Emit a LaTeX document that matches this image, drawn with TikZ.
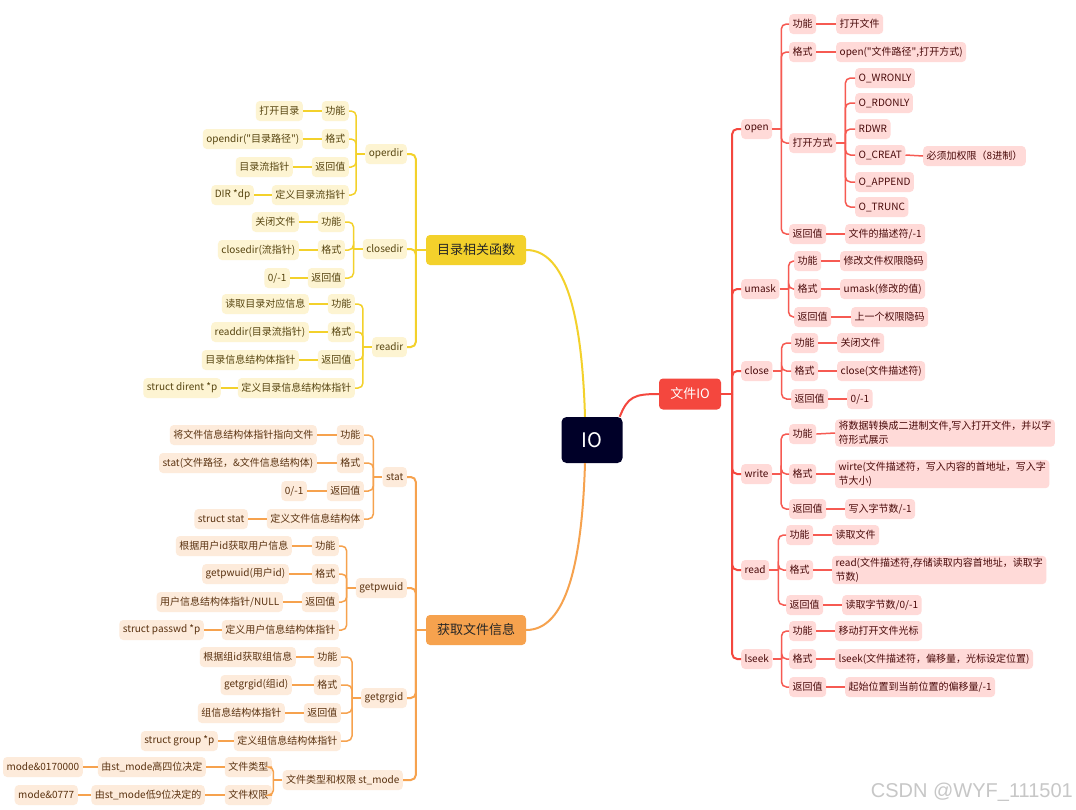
\documentclass[tikz,border=0pt]{standalone}
\usepackage{fontspec}
\setmainfont{Noto Sans CJK SC}
\newfontfamily\qfont{Noto Sans CJK SC}
\newfontfamily\wmfont{Liberation Sans}
\newcommand\sq{{\qfont"}}
\definecolor{iofill}{HTML}{000028}
\definecolor{redc}{HTML}{F4473E}
\definecolor{redl}{HTML}{F65A52}
\definecolor{rfill}{HTML}{FFDAD8}
\definecolor{rtext}{HTML}{4A0A0A}
\definecolor{ylc}{HTML}{F3D12B}
\definecolor{yfill}{HTML}{FDF4D2}
\definecolor{ytext}{HTML}{574510}
\definecolor{orc}{HTML}{F6A24E}
\definecolor{ofill}{HTML}{FDEBDB}
\definecolor{otext}{HTML}{5A3210}
\tikzset{
  base/.style={rounded corners=4pt, inner xsep=3.5pt, inner ysep=2pt, minimum height=20pt,
    font=\fontsize{10}{14}\selectfont, align=left},
  rnode/.style={base, fill=rfill, text=rtext},
  ynode/.style={base, fill=yfill, text=ytext},
  onode/.style={base, fill=ofill, text=otext},
  rline/.style={draw=redl, line width=1.5pt},
  rtrunk/.style={draw=redc, line width=2pt},
  yline/.style={draw=ylc, line width=1.5pt},
  ytrunk/.style={draw=ylc, line width=2pt},
  oline/.style={draw=orc, line width=1.5pt},
  otrunk/.style={draw=orc, line width=2pt},
  elbow/.style={rounded corners=5pt},
  mainnode/.style={rounded corners=4pt, minimum width=100pt, minimum height=30pt,
    font=\fontsize{13}{15}\selectfont, inner sep=0pt}
}
\begin{document}
\begin{tikzpicture}[x=1pt,y=-1pt]
\useasboundingbox[fill=white] (0,0) rectangle (1076,809);

% ---------- central nodes ----------
\node[rounded corners=5pt, fill=iofill, text=white, minimum width=61pt, minimum height=46pt,
  font=\fontsize{20}{22}\selectfont, inner sep=0pt] (io) at (592,440) {IO};
\node[mainnode, fill=redc, text=white, minimum width=62pt, minimum height=31pt] (wj) at (690,394) {文件IO};
\node[mainnode, fill=ylc, text=black!85] (dj) at (476,250) {目录相关函数};
\node[mainnode, fill=orc, text=black!85] (fj) at (476,630) {获取文件信息};

\draw[rtrunk] ([xshift=-3pt]io.north east) .. controls +(8,-20) and +(-25,0) .. (wj.west);
\draw[ytrunk] ([xshift=-7pt]io.north) .. controls +(-3,-100) and +(40,0) .. (dj.east);
\draw[otrunk] ([xshift=-7pt]io.south) .. controls +(-3,100) and +(40,0) .. (fj.east);

% ---------- right side: 文件IO ----------
\node[rnode,anchor=west] (o) at (741,129) {open};
\node[rnode,anchor=west] (u) at (741,289) {umask};
\node[rnode,anchor=west] (c) at (741,371) {close};
\node[rnode,anchor=west] (w) at (741,474) {write};
\node[rnode,anchor=west] (r) at (741,570) {read};
\node[rnode,anchor=west] (s) at (741,659) {lseek};

% open
\node[rnode,anchor=west] (o1) at (789,24) {功能};
\node[rnode,anchor=west] (o1l) at (836,24) {打开文件};
\node[rnode,anchor=west] (o2) at (789,52) {格式};
\node[rnode,anchor=west] (o2l) at (836,52) {open(\sq 文件路径\sq,打开方式)};
\node[rnode,anchor=west] (o3) at (789,143) {打开方式};
\node[rnode,anchor=west] (o3a) at (855,78) {O\_WRONLY};
\node[rnode,anchor=west] (o3b) at (855,103) {O\_RDONLY};
\node[rnode,anchor=west] (o3c) at (855,129) {RDWR};
\node[rnode,anchor=west] (o3d) at (855,155) {O\_CREAT};
\node[rnode,anchor=west] (o3x) at (923,156) {必须加权限（8进制）};
\node[rnode,anchor=west] (o3e) at (855,182) {O\_APPEND};
\node[rnode,anchor=west] (o3f) at (855,207) {O\_TRUNC};
\node[rnode,anchor=west] (o4) at (789,234) {返回值};
\node[rnode,anchor=west] (o4l) at (845,234) {文件的描述符/-1};

% umask
\node[rnode,anchor=west] (u1) at (794,261) {功能};
\node[rnode,anchor=west] (u1l) at (840,261) {修改文件权限隐码};
\node[rnode,anchor=west] (u2) at (794,289) {格式};
\node[rnode,anchor=west] (u2l) at (840,289) {umask(修改的值)};
\node[rnode,anchor=west] (u3) at (794,317) {返回值};
\node[rnode,anchor=west] (u3l) at (851,317) {上一个权限隐码};

% close
\node[rnode,anchor=west] (c1) at (791,343) {功能};
\node[rnode,anchor=west] (c1l) at (837,343) {关闭文件};
\node[rnode,anchor=west] (c2) at (791,371) {格式};
\node[rnode,anchor=west] (c2l) at (837,371) {close(文件描述符)};
\node[rnode,anchor=west] (c3) at (791,399) {返回值};
\node[rnode,anchor=west] (c3l) at (847,399) {0/-1};

% write
\node[rnode,anchor=west] (w1) at (789,434) {功能};
\node[rnode,anchor=west] (w1l) at (835,433) {将数据转换成二进制文件,写入打开文件，并以字\\符形式展示};
\node[rnode,anchor=west] (w2) at (789,474) {格式};
\node[rnode,anchor=west] (w2l) at (835,474) {wirte(文件描述符，写入内容的首地址，写入字\\节大小)};
\node[rnode,anchor=west] (w3) at (789,509) {返回值};
\node[rnode,anchor=west] (w3l) at (845,509) {写入字节数/-1};

% read
\node[rnode,anchor=west] (r1) at (786,535) {功能};
\node[rnode,anchor=west] (r1l) at (832,535) {读取文件};
\node[rnode,anchor=west] (r2) at (786,570) {格式};
\node[rnode,anchor=west] (r2l) at (832,570) {read(文件描述符,存储读取内容首地址，读取字\\节数)};
\node[rnode,anchor=west] (r3) at (786,605) {返回值};
\node[rnode,anchor=west] (r3l) at (842,605) {读取字节数/0/-1};

% lseek
\node[rnode,anchor=west] (s1) at (789,631) {功能};
\node[rnode,anchor=west] (s1l) at (835,631) {移动打开文件光标};
\node[rnode,anchor=west] (s2) at (789,659) {格式};
\node[rnode,anchor=west] (s2l) at (835,659) {lseek(文件描述符，偏移量，光标设定位置)};
\node[rnode,anchor=west] (s3) at (789,687) {返回值};
\node[rnode,anchor=west] (s3l) at (845,687) {起始位置到当前位置的偏移量/-1};

% right connectors
\draw[rtrunk] (wj.east) -- ([xshift=11pt]wj.east);
\foreach \n in {o,u,c,w,r,s}
  \draw[rtrunk,elbow] (\n.west) -| ([xshift=11pt]wj.east);
\foreach \p/\k in {o/4,u/3,c/3,w/3,r/3,s/3}{
  \draw[rline] (\p.east) -- ([xshift=9pt]\p.east);
  \foreach \i in {1,...,\k}
    \draw[rline,elbow] (\p\i.west) -| ([xshift=9pt]\p.east);
}
\foreach \n in {o1,o2,o4,u1,u2,u3,c1,c2,c3,w1,w2,w3,r1,r2,r3,s1,s2,s3}
  \draw[rline] (\n.east) -- (\n l.west);
\draw[rline] (o3.east) -- ([xshift=9pt]o3.east);
\foreach \n in {o3a,o3b,o3c,o3d,o3e,o3f}
  \draw[rline,elbow] (\n.west) -| ([xshift=9pt]o3.east);
\draw[rline] (o3d.east) -- (o3x.west);

% ---------- left top: 目录相关函数 ----------
\node[ynode,anchor=east] (d1) at (407,154) {operdir};
\node[ynode,anchor=east] (d2) at (407,249) {closedir};
\node[ynode,anchor=east] (d3) at (407,347) {readir};

\node[ynode,anchor=east] (d11) at (349,111) {功能};
\node[ynode,anchor=east] (d11l) at (303,111) {打开目录};
\node[ynode,anchor=east] (d12) at (349,139) {格式};
\node[ynode,anchor=east] (d12l) at (303,139) {opendir(\sq 目录路径\sq)};
\node[ynode,anchor=east] (d13) at (349,167) {返回值};
\node[ynode,anchor=east] (d13l) at (293,167) {目录流指针};
\node[ynode,anchor=east] (d14) at (349,195) {定义目录流指针};
\node[ynode,anchor=east] (d14l) at (254,195) {DIR *dp};

\node[ynode,anchor=east] (d21) at (345,222) {功能};
\node[ynode,anchor=east] (d21l) at (299,222) {关闭文件};
\node[ynode,anchor=east] (d22) at (345,250) {格式};
\node[ynode,anchor=east] (d22l) at (299,250) {closedir(流指针)};
\node[ynode,anchor=east] (d23) at (345,278) {返回值};
\node[ynode,anchor=east] (d23l) at (290,278) {0/-1};

\node[ynode,anchor=east] (d31) at (355,304) {功能};
\node[ynode,anchor=east] (d31l) at (309,304) {读取目录对应信息};
\node[ynode,anchor=east] (d32) at (355,332) {格式};
\node[ynode,anchor=east] (d32l) at (309,332) {readdir(目录流指针)};
\node[ynode,anchor=east] (d33) at (355,360) {返回值};
\node[ynode,anchor=east] (d33l) at (299,360) {目录信息结构体指针};
\node[ynode,anchor=east] (d34) at (355,388) {定义目录信息结构体指针};
\node[ynode,anchor=east] (d34l) at (221,388) {struct dirent *p};

\draw[ytrunk] (dj.west) -- ([xshift=-10pt]dj.west);
\foreach \n in {d1,d2,d3}
  \draw[ytrunk,elbow] (\n.east) -| ([xshift=-10pt]dj.west);
\foreach \p/\k in {d1/4,d2/3,d3/4}{
  \draw[yline] (\p.west) -- ([xshift=-9pt]\p.west);
  \foreach \i in {1,...,\k}{
    \draw[yline,elbow] (\p\i.east) -| ([xshift=-9pt]\p.west);
    \draw[yline] (\p\i.west) -- (\p\i l.east);
  }
}

% ---------- left bottom: 获取文件信息 ----------
\node[onode,anchor=east] (f1) at (407,477) {stat};
\node[onode,anchor=east] (f2) at (407,588) {getpwuid};
\node[onode,anchor=east] (f3) at (407,698) {getgrgid};
\node[onode,anchor=east] (f4) at (403,780) {文件类型和权限 st\_mode};

\node[onode,anchor=east] (f11) at (364,435) {功能};
\node[onode,anchor=east] (f11l) at (317,435) {将文件信息结构体指针指向文件};
\node[onode,anchor=east] (f12) at (364,463) {格式};
\node[onode,anchor=east] (f12l) at (317,463) {stat(文件路径，\&文件信息结构体)};
\node[onode,anchor=east] (f13) at (364,491) {返回值};
\node[onode,anchor=east] (f13l) at (307,491) {0/-1};
\node[onode,anchor=east] (f14) at (364,519) {定义文件信息结构体};
\node[onode,anchor=east] (f14l) at (248,519) {struct stat};

\node[onode,anchor=east] (f21) at (339,546) {功能};
\node[onode,anchor=east] (f21l) at (292,546) {根据用户id获取用户信息};
\node[onode,anchor=east] (f22) at (339,574) {格式};
\node[onode,anchor=east] (f22l) at (289,574) {getpwuid(用户id)};
\node[onode,anchor=east] (f23) at (339,602) {返回值};
\node[onode,anchor=east] (f23l) at (283,602) {用户信息结构体指针/NULL};
\node[onode,anchor=east] (f24) at (339,630) {定义用户信息结构体指针};
\node[onode,anchor=east] (f24l) at (204,630) {struct passwd *p};

\node[onode,anchor=east] (f31) at (341,657) {功能};
\node[onode,anchor=east] (f31l) at (296,657) {根据组id获取组信息};
\node[onode,anchor=east] (f32) at (341,685) {格式};
\node[onode,anchor=east] (f32l) at (292,685) {getgrgid(组id)};
\node[onode,anchor=east] (f33) at (341,713) {返回值};
\node[onode,anchor=east] (f33l) at (285,713) {组信息结构体指针};
\node[onode,anchor=east] (f34) at (341,741) {定义组信息结构体指针};
\node[onode,anchor=east] (f34l) at (218,741) {struct group *p};

\node[onode,anchor=east] (f41) at (272,767) {文件类型};
\node[onode,anchor=east] (f41l) at (206,767) {由st\_mode高四位决定};
\node[onode,anchor=east] (f41m) at (83,767) {mode\&0170000};
\node[onode,anchor=east] (f42) at (272,795) {文件权限};
\node[onode,anchor=east] (f42l) at (205,795) {由st\_mode低9位决定的};
\node[onode,anchor=east] (f42m) at (78,795) {mode\&0777};

\draw[otrunk] (fj.west) -- ([xshift=-10pt]fj.west);
\foreach \n in {f1,f2,f3,f4}
  \draw[otrunk,elbow] (\n.east) -| ([xshift=-10pt]fj.west);
\foreach \p/\k in {f1/4,f2/4,f3/4,f4/2}{
  \draw[oline] (\p.west) -- ([xshift=-9pt]\p.west);
  \foreach \i in {1,...,\k}{
    \draw[oline,elbow] (\p\i.east) -| ([xshift=-9pt]\p.west);
    \draw[oline] (\p\i.west) -- (\p\i l.east);
  }
}
\draw[oline] (f41l.west) -- (f41m.east);
\draw[oline] (f42l.west) -- (f42m.east);

% watermark
\node[text=black!22, font=\wmfont\fontsize{20}{22}\selectfont, anchor=east, inner sep=0pt] (wm) at (1073,792) {CSDN @WYF\_111501};
\end{tikzpicture}
\end{document}
